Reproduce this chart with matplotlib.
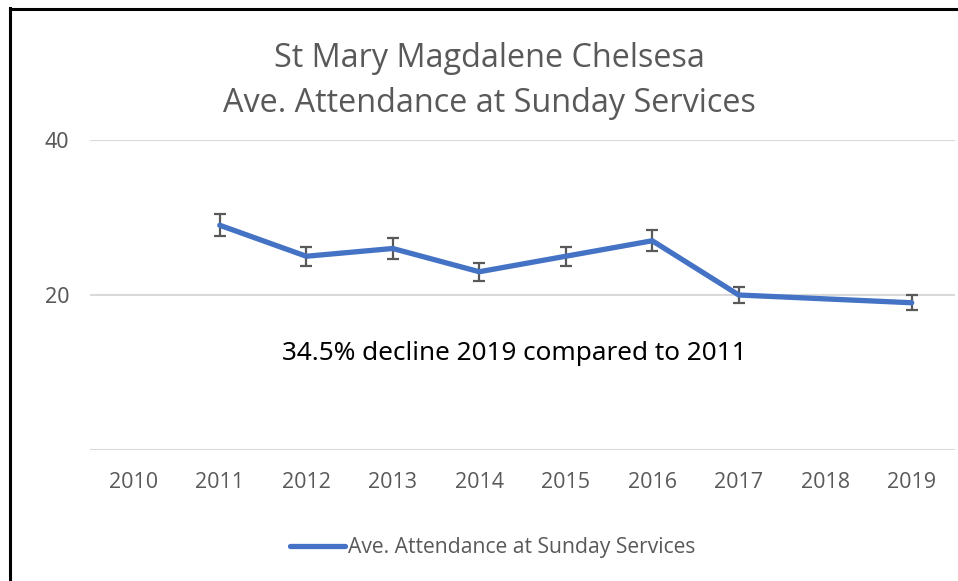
import matplotlib
matplotlib.use("Agg")
import matplotlib.pyplot as plt
from matplotlib.lines import Line2D
import numpy as np

# ---- data ----
years = ["2010", "2011", "2012", "2013", "2014", "2015", "2016", "2017", "2018", "2019"]
attendance = [None, 29, 25, 26, 23, 25, 27, 20, None, 19]
errors = [None, 1.45, 1.25, 1.3, 1.15, 1.25, 1.35, 1.0, None, 0.95]
y_ticks = [20, 40]
title_text = "St Mary Magdalene Chelsesa\nAve. Attendance at Sunday Services"
series_name = "Ave. Attendance at Sunday Services"
note_text = "34.5% decline 2019 compared to 2011"

NARROW = ["Open Sans", "DejaVu Sans"]
WIDE = ["Noto Sans", "DejaVu Sans"]
GRAY = "#595959"
BLUE = "#4472C4"

W, H = 958, 581
fig = plt.figure(figsize=(W / 100, H / 100), dpi=100)
fig.patch.set_facecolor("white")

ax = fig.add_axes([90 / W, 1 - 450 / H, (955 - 90) / W, (450 - 140) / H])

idx = [i for i, v in enumerate(attendance) if v is not None]
xs = np.array(idx)
ys = np.array([attendance[i] for i in idx])
es = np.array([errors[i] for i in idx])

ax.errorbar(xs, ys, yerr=es, fmt="none", ecolor=GRAY, elinewidth=1.6,
            capsize=4.5, capthick=1.6, zorder=2)
line, = ax.plot(xs, ys, color=BLUE, lw=3.8, solid_capstyle="round",
                solid_joinstyle="round", zorder=3, label=series_name)

ax.set_xlim(-0.5, len(years) - 0.5)
ax.set_ylim(0, 40)
ax.set_xticks(range(len(years)))
ax.set_xticklabels(years, family=NARROW, fontsize=15.5, color=GRAY)
ax.set_yticks([0] + y_ticks)
ax.set_yticklabels([""] + [str(t) for t in y_ticks], family=WIDE, fontsize=15.5, color=GRAY)
ax.tick_params(axis="x", length=0, pad=16)
ax.tick_params(axis="y", length=0, pad=15)
for s in ax.spines.values():
    s.set_visible(False)
ax.grid(axis="y", color="#D9D9D9", lw=1.5)
ax.set_axisbelow(True)

# title
fig.text(489 / W, 1 - 81 / H, title_text, ha="center", va="center",
         family=NARROW, fontsize=23.3, color=GRAY, linespacing=1.45)

# annotation
ax.text(4.4, 12.4, note_text, ha="center", va="center",
        family=WIDE, fontsize=18.8, color="black")

# legend
leg = fig.legend(handles=[line], loc="center", bbox_to_anchor=(493 / W, 1 - 548 / H),
                 frameon=False, prop={"family": NARROW, "size": 15.2},
                 handlelength=2.6, handletextpad=0.15)
for t in leg.get_texts():
    t.set_color(GRAY)

# chart border (top and left)
fig.add_artist(Line2D([9.5 / W, 1], [1 - 9 / H, 1 - 9 / H], transform=fig.transFigure,
                      color="black", lw=2.2))
fig.add_artist(Line2D([10 / W, 10 / W], [0, 1 - 8 / H], transform=fig.transFigure,
                      color="black", lw=2.2))

fig.savefig("out.png", dpi=100, facecolor="white")
